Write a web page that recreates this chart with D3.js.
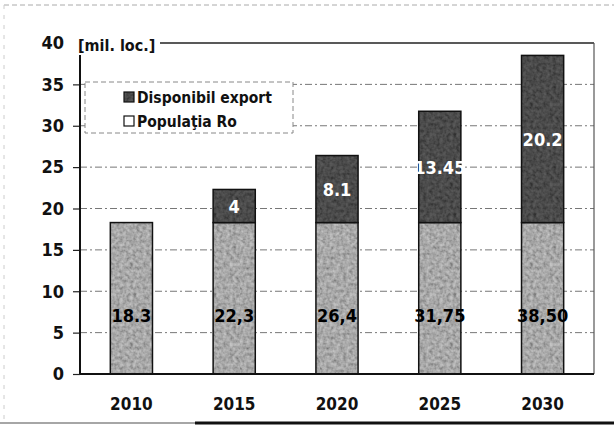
<!DOCTYPE html>
<html>
<head>
<meta charset="utf-8">
<script src="https://cdn.jsdelivr.net/npm/d3@7"></script>
<style>
  body { margin: 0; background: #fff; }
  svg { display: block; }
  text { font-family: "Liberation Sans Narrow", "Arial Narrow", "DejaVu Sans Condensed", sans-serif; font-weight: bold; }
</style>
</head>
<body>
<svg id="chart" width="614" height="426"></svg>
<script>
// data
var years = ["2010", "2015", "2020", "2025", "2030"];
var populatie = [18.3, 18.3, 18.3, 18.3, 18.3];
var exportDisp = [0, 4, 8.1, 13.45, 20.2];
var exportLabels = ["", "4", "8.1", "13.45", "20.2"];
var totalLabels = ["18.3", "22,3", "26,4", "31,75", "38,50"];
var yTicks = [0, 5, 10, 15, 20, 25, 30, 35, 40];
var seriesNames = ["Disponibil export", "Populaţia Ro"];

var svg = d3.select("#chart");
var plotLeft = 80, plotRight = 594, plotTop = 43, plotBottom = 374;

var x = d3.scaleBand().domain(years).range([plotLeft, plotRight])
    .paddingInner(0.59).paddingOuter(0.295);
var y = d3.scaleLinear().domain([0, 40]).range([plotBottom, plotTop]);

// textures (scanned, mottled look)
var defs = svg.append("defs");
var f = defs.append("filter").attr("id", "noise")
    .attr("x", 0).attr("y", 0).attr("width", "100%").attr("height", "100%");
f.append("feTurbulence").attr("type", "fractalNoise")
    .attr("baseFrequency", 0.3).attr("numOctaves", 2).attr("seed", 3);
f.append("feColorMatrix").attr("type", "matrix")
    .attr("values", "1 0 0 0 0  1 0 0 0 0  1 0 0 0 0  0 0 0 0 1");

function texture(id, base, op) {
  var p = defs.append("pattern").attr("id", id)
      .attr("patternUnits", "userSpaceOnUse").attr("width", 80).attr("height", 80);
  p.append("rect").attr("width", 80).attr("height", 80).attr("fill", base);
  p.append("rect").attr("width", 80).attr("height", 80)
      .attr("filter", "url(#noise)").attr("opacity", op)
      .style("mix-blend-mode", "multiply");
}
texture("darkTex", "#626262", 0.9);
texture("lightTex", "#cfcfcf", 0.7);

// outer frame of the scan
svg.append("line").attr("x1", 4).attr("x2", 614).attr("y1", 5).attr("y2", 5)
    .attr("stroke", "#aaa").attr("stroke-dasharray", "5,3");
svg.append("line").attr("x1", 4).attr("x2", 4).attr("y1", 5).attr("y2", 420)
    .attr("stroke", "#ccc").attr("stroke-dasharray", "4,6");
svg.append("line").attr("x1", 0).attr("x2", 195).attr("y1", 423).attr("y2", 423)
    .attr("stroke", "#888").attr("stroke-width", 1.5);
svg.append("line").attr("x1", 195).attr("x2", 614).attr("y1", 423).attr("y2", 423)
    .attr("stroke", "#111").attr("stroke-width", 3);

// grid lines
svg.append("g").selectAll("line")
  .data(yTicks.filter(function(d) { return d > 0 && d < 40; }))
  .enter().append("line")
  .attr("x1", plotLeft).attr("x2", plotRight)
  .attr("y1", function(d) { return y(d); })
  .attr("y2", function(d) { return y(d); })
  .attr("stroke", "#777").attr("stroke-width", 1)
  .attr("stroke-dasharray", "7,3,2,3");

// plot frame: top line at 40 and right edge
svg.append("line").attr("x1", 160).attr("x2", plotRight).attr("y1", y(40)).attr("y2", y(40))
    .attr("stroke", "#222").attr("stroke-width", 1.5);
svg.append("line").attr("x1", plotRight).attr("x2", plotRight).attr("y1", y(40)).attr("y2", plotBottom)
    .attr("stroke", "#555").attr("stroke-width", 1.2);

// legend box
var lg = svg.append("g");
lg.append("rect").attr("x", 85).attr("y", 82).attr("width", 208).attr("height", 51)
    .attr("fill", "#fff").attr("stroke", "#888").attr("stroke-dasharray", "5,3");
var legendFills = ["url(#darkTex)", "#fff"];
seriesNames.forEach(function(name, i) {
  lg.append("rect").attr("x", 124).attr("y", 92 + i * 24).attr("width", 10).attr("height", 10)
      .attr("fill", legendFills[i]).attr("stroke", "#111").attr("stroke-width", 1.2);
  lg.append("text").attr("x", 137).attr("y", 103 + i * 24)
      .attr("font-size", "15.5px").attr("fill", "#111").text(name);
});

// bars
var bars = svg.append("g");
bars.selectAll(".pop").data(years).enter().append("rect")
  .attr("x", function(d) { return x(d); })
  .attr("width", x.bandwidth())
  .attr("y", function(d, i) { return y(populatie[i]); })
  .attr("height", function(d, i) { return y(0) - y(populatie[i]); })
  .attr("fill", "url(#lightTex)").attr("stroke", "#111").attr("stroke-width", 1.5);

bars.selectAll(".exp").data(years).enter().append("rect")
  .filter(function(d, i) { return exportDisp[i] > 0; })
  .attr("x", function(d) { return x(d); })
  .attr("width", x.bandwidth())
  .attr("y", function(d) { var i = years.indexOf(d); return y(populatie[i] + exportDisp[i]); })
  .attr("height", function(d) { var i = years.indexOf(d); return y(populatie[i]) - y(populatie[i] + exportDisp[i]); })
  .attr("fill", "url(#darkTex)").attr("stroke", "#111").attr("stroke-width", 1.5);

// bar labels
svg.append("g").selectAll("text").data(years).enter().append("text")
  .attr("x", function(d) { return x(d) + x.bandwidth() / 2; })
  .attr("y", y(6.3))
  .attr("text-anchor", "middle").attr("font-size", "18px").attr("fill", "#000")
  .text(function(d, i) { return totalLabels[i]; });

svg.append("g").selectAll("text").data(years).enter().append("text")
  .attr("x", function(d) { return x(d) + x.bandwidth() / 2; })
  .attr("y", function(d, i) { return y(populatie[i] + exportDisp[i] / 2) + 7; })
  .attr("text-anchor", "middle").attr("font-size", "18px").attr("fill", "#fff")
  .text(function(d, i) { return exportLabels[i]; });

// y axis
var yAxis = svg.append("g").attr("transform", "translate(" + plotLeft + ",0)")
  .call(d3.axisLeft(y).tickValues(yTicks).tickSize(7).tickPadding(9));
yAxis.select(".domain").remove();
yAxis.selectAll(".tick line").attr("stroke", "#222").attr("stroke-width", 1.2);
yAxis.selectAll(".tick").filter(function(d) { return d === 40; }).select("line").remove();
yAxis.selectAll("text").attr("font-size", "18px").attr("fill", "#111")
  .attr("font-family", null);
svg.append("line").attr("x1", plotLeft).attr("x2", plotLeft).attr("y1", 55).attr("y2", plotBottom)
    .attr("stroke", "#111").attr("stroke-width", 2);

// x axis
var xAxis = svg.append("g").attr("transform", "translate(0," + plotBottom + ")")
  .call(d3.axisBottom(x).tickSize(0).tickPadding(24));
xAxis.select(".domain").attr("stroke", "#111").attr("stroke-width", 2)
  .attr("d", "M" + plotLeft + ",0H" + plotRight);
xAxis.selectAll("text").attr("font-size", "17px").attr("fill", "#111")
  .attr("font-family", null);

// unit label
svg.append("text").attr("x", 78).attr("y", 51)
  .attr("font-size", "16px").attr("fill", "#111").text("[mil. loc.]");
</script>
</body>
</html>
